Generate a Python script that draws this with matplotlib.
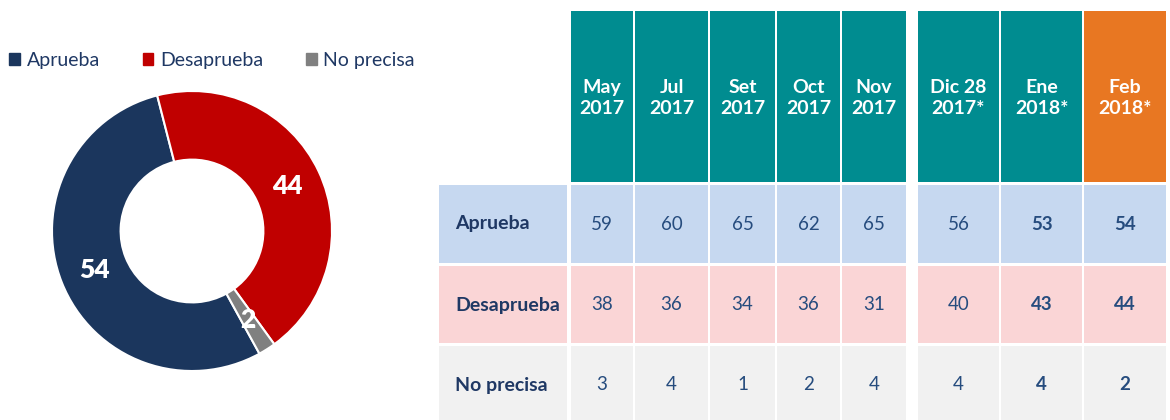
import matplotlib.pyplot as plt
from matplotlib.patches import Rectangle, Patch
import numpy as np

plt.rcParams['font.family'] = ['Lato', 'DejaVu Sans']

# datos del donut (Feb 2018)
donut_labels = ['Aprueba', 'Desaprueba', 'No precisa']
donut_values = [54, 44, 2]
donut_colors = ['#1B365D', '#C00000', '#808080']

# datos de la tabla
months = ['May\n2017', 'Jul\n2017', 'Set\n2017', 'Oct\n2017', 'Nov\n2017',
          'Dic 28\n2017*', 'Ene\n2018*', 'Feb\n2018*']
row_labels = ['Aprueba', 'Desaprueba', 'No precisa']
aprueba = [59, 60, 65, 62, 65, 56, 53, 54]
desaprueba = [38, 36, 34, 36, 31, 40, 43, 44]
no_precisa = [3, 4, 1, 2, 4, 4, 4, 2]
bold_cols = [6, 7]

# layout de la tabla (pixeles)
col_x = [571, 635, 710, 777, 842, 918, 1001, 1084]
col_w = [62, 73, 65, 63, 64, 81, 81, 82]
label_x, label_w = 439, 128
head_y, head_h = 11, 171
row_y = [185, 266, 346]
row_h = [78, 77, 80]
row_bg = ['#C6D8F0', '#FAD5D6', '#F1F1F1']
teal = '#008C90'
orange = '#E87722'
navy = '#1F3864'
num_color = '#264C7E'

fig = plt.figure(figsize=(11.7, 4.2), dpi=100)

# --- donut ---
ax1 = fig.add_axes([52 / 1170, 49 / 420, 280 / 1170, 280 / 420])
wedges, _ = ax1.pie(donut_values, colors=donut_colors, startangle=-61.2,
                    counterclock=False, radius=1,
                    wedgeprops=dict(width=0.49, edgecolor='white', linewidth=1.5))
ax1.set_xlim(-1, 1)
ax1.set_ylim(-1, 1)
for w, v in zip(wedges, donut_values):
    ang = np.deg2rad((w.theta1 + w.theta2) / 2)
    ax1.text(0.75 * np.cos(ang), 0.75 * np.sin(ang), str(v), color='white',
             fontsize=19, fontweight='heavy', ha='center', va='center')

handles = [Patch(color=c) for c in donut_colors]
fig.legend(handles, donut_labels, loc='center left', bbox_to_anchor=(9 / 1170, 0.857),
           ncol=3, frameon=False, fontsize=14, handlelength=0.55, handleheight=0.55,
           handletextpad=0.35, columnspacing=2.2, labelcolor=navy,
           borderaxespad=0, borderpad=0)

# --- tabla ---
ax2 = fig.add_axes([0, 0, 1, 1])
ax2.set_xlim(0, 1170)
ax2.set_ylim(420, 0)
ax2.axis('off')

for i, m in enumerate(months):
    hc = orange if i == len(months) - 1 else teal
    ax2.add_patch(Rectangle((col_x[i], head_y), col_w[i], head_h, facecolor=hc, linewidth=0))
    ax2.text(col_x[i] + col_w[i] / 2, 98, m, color='white', fontsize=14,
             fontweight='bold', ha='center', va='center', linespacing=1.25)

for r, vals in enumerate([aprueba, desaprueba, no_precisa]):
    ax2.add_patch(Rectangle((label_x, row_y[r]), label_w, row_h[r],
                            facecolor=row_bg[r], linewidth=0))
    yc = row_y[r] + 39
    ax2.text(label_x + 16, yc, row_labels[r], color=navy, fontsize=14,
             fontweight='bold', ha='left', va='center')
    for i, v in enumerate(vals):
        ax2.add_patch(Rectangle((col_x[i], row_y[r]), col_w[i], row_h[r],
                                facecolor=row_bg[r], linewidth=0))
        ax2.text(col_x[i] + col_w[i] / 2, yc, str(v), color=num_color, fontsize=13.5,
                 fontweight='bold' if i in bold_cols else 'normal',
                 ha='center', va='center')

fig.savefig('out.png', dpi=100)
